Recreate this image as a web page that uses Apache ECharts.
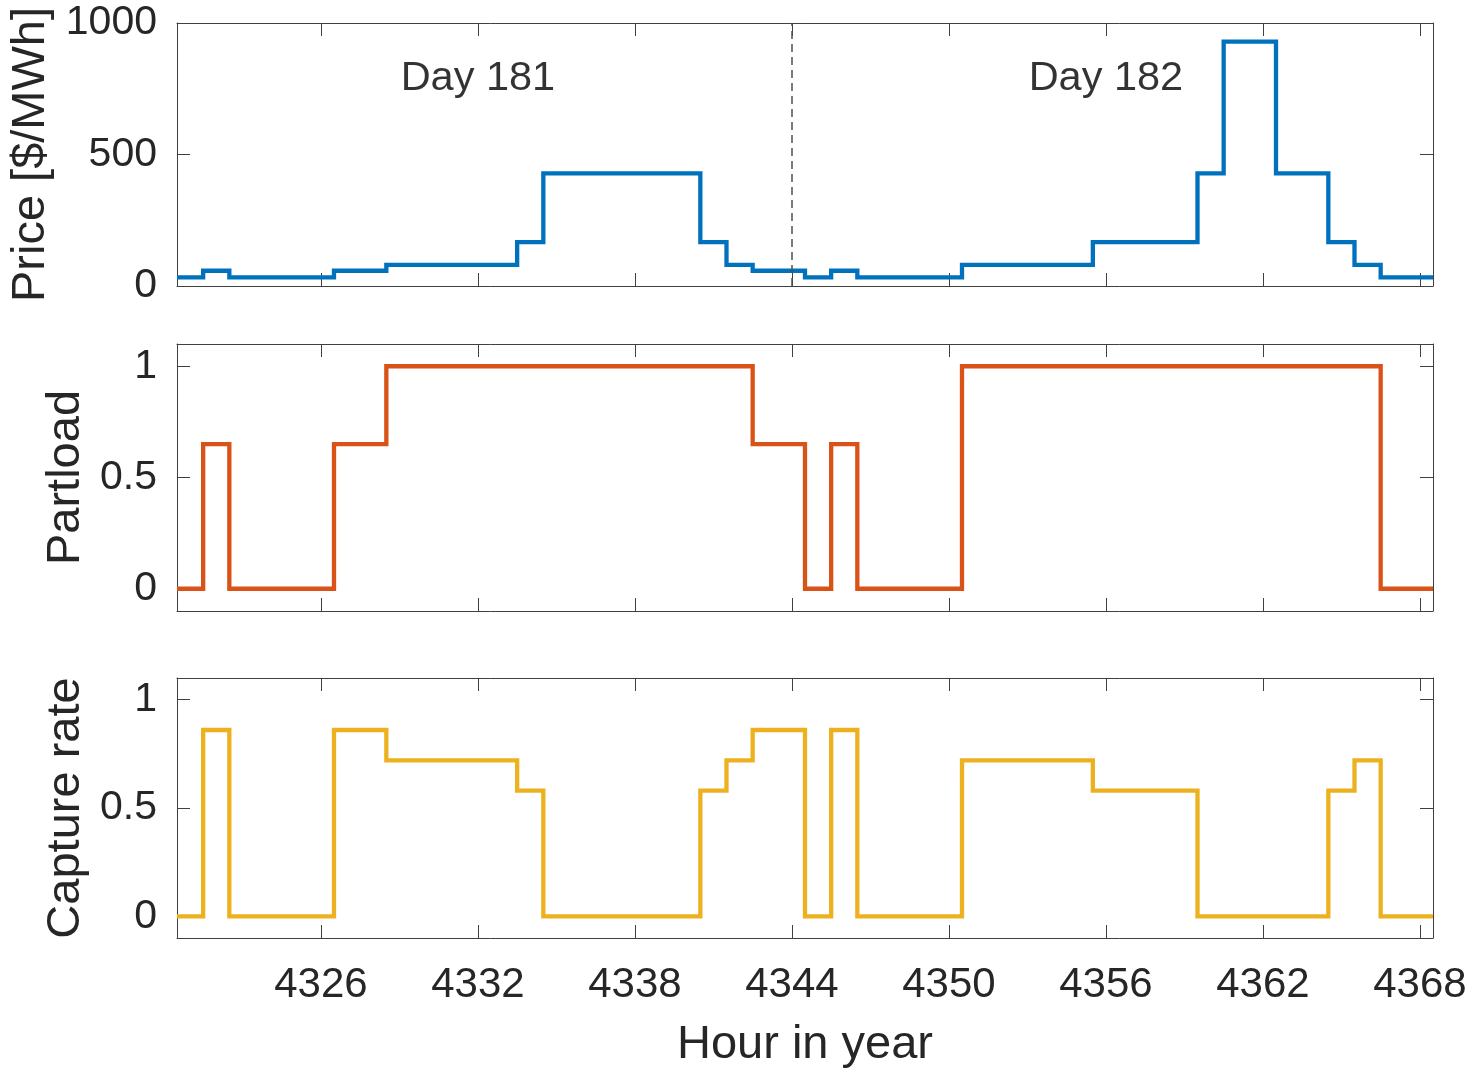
<!DOCTYPE html>
<html><head><meta charset="utf-8">
<script src="https://cdn.jsdelivr.net/npm/echarts@6/dist/echarts.min.js"></script>
<style>html,body{margin:0;padding:0;background:#fff}#c{width:1476px;height:1069px}</style>
</head><body><div id="c"></div>
<script>
// ---- data ----
const hours = [4321,4322,4323,4324,4325,4326,4327,4328,4329,4330,4331,4332,4333,4334,4335,4336,4337,4338,4339,4340,4341,4342,4343,4344,
               4345,4346,4347,4348,4349,4350,4351,4352,4353,4354,4355,4356,4357,4358,4359,4360,4361,4362,4363,4364,4365,4366,4367,4368];
const price = [33,58,33,33,33,33,58,58,80,80,80,80,80,167,428,428,428,428,428,428,167,80,58,58,
               33,58,33,33,33,33,80,80,80,80,80,167,167,167,167,428,929,929,428,428,167,80,33,33];
const partload = [0,0.65,0,0,0,0,0.65,0.65,1,1,1,1,1,1,1,1,1,1,1,1,1,1,0.65,0.65,
                  0,0.65,0,0,0,0,1,1,1,1,1,1,1,1,1,1,1,1,1,1,1,1,0,0];
const capture = [0,0.86,0,0,0,0,0.86,0.86,0.72,0.72,0.72,0.72,0.72,0.58,0,0,0,0,0,0,0.58,0.72,0.86,0.86,
                 0,0.86,0,0,0,0,0.72,0.72,0.72,0.72,0.72,0.58,0.58,0.58,0.58,0,0,0,0,0,0.58,0.72,0,0];
const xTicks = [4326,4332,4338,4344,4350,4356,4362,4368];
const priceTicks = [0,500,1000];
const fracTicks = [0,0.5,1];
const dayBoundary = 4344;
const dayLabelText = ['Day 181','Day 182'];
const dayLabelX = [4332,4356];
const dayLabelY = [790,790];
const xRange = [4320.5,4368.5];
const panelNames = ['Price [$/MWh]','Partload','Capture rate'];
const colors = ['#0072BD','#D95319','#EDB120'];

// ---- chart ----
const FONT = 'Liberation Sans, Arial, Helvetica, sans-serif';
const TXT = '#262626';
const AX = '#404040';
function stepData(vals){
  const d = hours.map((h,i)=>[h-0.5, vals[i]]);
  d.push([hours[hours.length-1]+0.5, vals[vals.length-1]]);
  return d;
}
const grids = [
  {left:177, top:23, width:1256, height:263, outerBoundsMode:'none', containLabel:false},
  {left:177, top:344, width:1256, height:267, outerBoundsMode:'none', containLabel:false},
  {left:177, top:678, width:1256, height:260, outerBoundsMode:'none', containLabel:false}
];
const yRanges = [[0,1000],[-0.1,1.1],[-0.1,1.1]];
const yTicks = [priceTicks, fracTicks, fracTicks];
const nameGaps = [117,80,80];
const plain = v => String(v);
const xAxes = [], yAxes = [], series = [];
grids.forEach((g,i)=>{
  ['bottom','top'].forEach(pos=>{
    const main = pos==='bottom';
    xAxes.push({
      type:'value', gridIndex:i, position:pos, min:xRange[0], max:xRange[1],
      axisLine:{show:true, onZero:false, lineStyle:{color:AX, width:1}},
      axisTick:{show:true, inside:true, length:13, customValues:xTicks, lineStyle:{color:AX, width:1}},
      axisLabel:{show: main && i===2, customValues:xTicks, formatter:plain, margin:26, fontSize:42, color:TXT, fontFamily:FONT},
      splitLine:{show:false},
      name: (main && i===2) ? 'Hour in year' : '',
      nameLocation:'middle', nameGap:84,
      nameTextStyle:{fontSize:47, color:TXT, fontFamily:FONT}
    });
  });
  ['left','right'].forEach(pos=>{
    const main = pos==='left';
    yAxes.push({
      type:'value', gridIndex:i, position:pos, min:yRanges[i][0], max:yRanges[i][1],
      axisLine:{show:true, onZero:false, lineStyle:{color:AX, width:1}},
      axisTick:{show:true, inside:true, length:13, customValues:yTicks[i], lineStyle:{color:AX, width:1}},
      axisLabel:{show: main, customValues:yTicks[i], formatter:plain, margin:20, fontSize:41, color:TXT, fontFamily:FONT},
      splitLine:{show:false},
      name: main ? panelNames[i] : '',
      nameLocation:'middle', nameRotate:90, nameGap:nameGaps[i],
      nameTextStyle:{fontSize:47, color:TXT, fontFamily:FONT}
    });
  });
});
const vals = [price, partload, capture];
vals.forEach((v,i)=>{
  const s = {
    type:'line', step:'end', xAxisIndex:2*i, yAxisIndex:2*i,
    data: stepData(v), symbol:'none', showSymbol:false,
    lineStyle:{color:colors[i], width:4.3, join:'miter'}, z:3
  };
  if(i===0){
    s.markLine = {
      silent:true, symbol:['none','none'], label:{show:false},
      lineStyle:{color:'#505050', type:[8,5], width:1.5},
      data:[{xAxis:dayBoundary}]
    };
  }
  series.push(s);
});
series.push({
  type:'scatter', xAxisIndex:0, yAxisIndex:0, symbolSize:1,
  itemStyle:{color:'transparent'},
  data: dayLabelText.map((t,k)=>[dayLabelX[k], dayLabelY[k], t]),
  label:{show:true, position:'inside', formatter:p=>p.value[2], fontSize:41.5, color:'#000', fontFamily:FONT},
  silent:true, z:5
});
const chart = echarts.init(document.getElementById('c'), null, {renderer:'canvas'});
chart.setOption({
  animation:false, backgroundColor:'#fff',
  grid:grids, xAxis:xAxes, yAxis:yAxes, series:series
});
</script>
</body></html>
